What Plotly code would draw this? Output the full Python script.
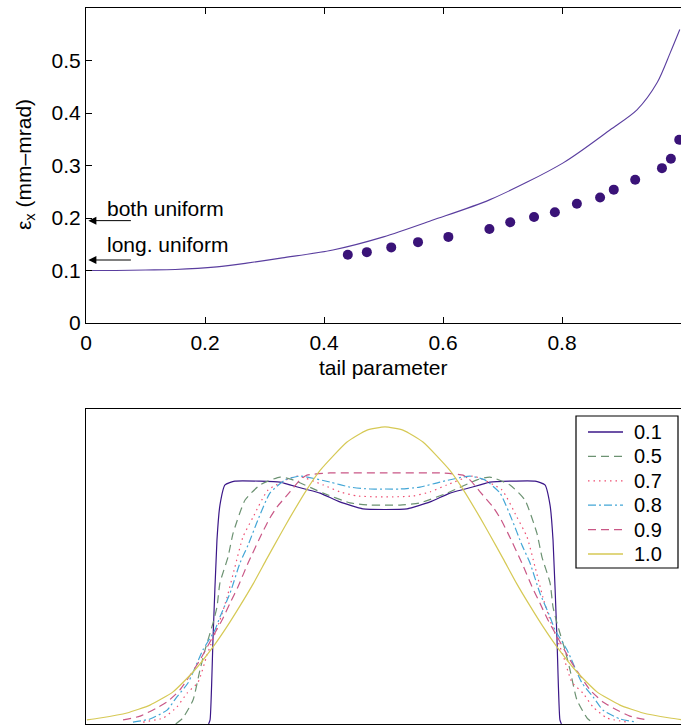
import plotly.graph_objects as go

# ---------------- top panel data ----------------
tail_curve = [0.0, 0.05, 0.10, 0.15, 0.22, 0.27, 0.33, 0.415, 0.50, 0.583, 0.679, 0.802, 0.881, 0.926, 0.960, 0.982, 0.998]
emit_curve = [0.100, 0.100, 0.101, 0.102, 0.107, 0.114, 0.124, 0.139, 0.164, 0.196, 0.235, 0.305, 0.368, 0.406, 0.458, 0.515, 0.559]

tail_pts = [0.440, 0.472, 0.513, 0.558, 0.609, 0.678, 0.713, 0.753, 0.788, 0.825, 0.864, 0.887, 0.923, 0.968, 0.983, 0.997]
emit_pts = [0.130, 0.135, 0.144, 0.154, 0.164, 0.179, 0.192, 0.202, 0.211, 0.227, 0.239, 0.254, 0.273, 0.295, 0.313, 0.349]

x_ticks = [0, 0.2, 0.4, 0.6, 0.8, 1]
x_ticklabels = ["0", "0.2", "0.4", "0.6", "0.8", "1"]
y_ticks = [0, 0.1, 0.2, 0.3, 0.4, 0.5]
y_ticklabels = ["0", "0.1", "0.2", "0.3", "0.4", "0.5"]

ann_labels = ["both uniform", "long. uniform"]
ann_values = [0.195, 0.120]

# ---------------- bottom panel data (half profiles, symmetric about 0) ----------------
labels = ["0.1", "0.5", "0.7", "0.8", "0.9", "1.0"]
u_half = {
    "0.1": [-0.590, -0.585, -0.575, -0.562, -0.552, -0.535, -0.502, -0.418, -0.351, -0.318, -0.268, -0.217, -0.151, -0.074, 0.0],
    "0.5": [-0.700, -0.676, -0.642, -0.619, -0.602, -0.585, -0.575, -0.562, -0.552, -0.525, -0.508, -0.468, -0.418, -0.351, -0.308, -0.207, -0.117, -0.050, 0.0],
    "0.7": [-0.809, -0.742, -0.696, -0.662, -0.625, -0.595, -0.552, -0.528, -0.502, -0.475, -0.441, -0.391, -0.294, -0.207, -0.151, -0.094, -0.027, 0.0],
    "0.8": [-0.843, -0.786, -0.729, -0.696, -0.659, -0.609, -0.569, -0.552, -0.518, -0.485, -0.458, -0.425, -0.385, -0.334, -0.284, -0.184, -0.117, -0.050, 0.0],
    "0.9": [-0.876, -0.819, -0.763, -0.729, -0.686, -0.619, -0.569, -0.545, -0.518, -0.492, -0.458, -0.411, -0.385, -0.361, -0.318, -0.284, -0.261, -0.184, 0.0],
    "1.0": [-0.997, -0.953, -0.863, -0.786, -0.709, -0.642, -0.575, -0.528, -0.485, -0.441, -0.395, -0.351, -0.318, -0.261, -0.217, -0.127, -0.060, 0.0],
}
p_half = {
    "0.1": [0.000, 0.013, 0.276, 0.584, 0.695, 0.759, 0.771, 0.771, 0.768, 0.759, 0.746, 0.733, 0.705, 0.683, 0.681],
    "0.5": [0.000, 0.019, 0.076, 0.171, 0.235, 0.289, 0.321, 0.371, 0.448, 0.530, 0.606, 0.711, 0.759, 0.784, 0.775, 0.733, 0.702, 0.695, 0.695],
    "0.7": [0.006, 0.019, 0.054, 0.098, 0.133, 0.220, 0.330, 0.403, 0.498, 0.594, 0.657, 0.743, 0.787, 0.759, 0.737, 0.724, 0.721, 0.721],
    "0.8": [0.006, 0.016, 0.044, 0.086, 0.130, 0.235, 0.298, 0.340, 0.416, 0.511, 0.568, 0.648, 0.733, 0.775, 0.787, 0.768, 0.752, 0.746, 0.746],
    "0.9": [0.013, 0.025, 0.051, 0.070, 0.108, 0.203, 0.289, 0.330, 0.384, 0.435, 0.511, 0.606, 0.654, 0.689, 0.737, 0.775, 0.790, 0.797, 0.797],
    "1.0": [0.013, 0.019, 0.035, 0.060, 0.102, 0.165, 0.245, 0.310, 0.375, 0.445, 0.525, 0.600, 0.655, 0.745, 0.805, 0.895, 0.933, 0.943],
}
colors = {"0.1": "#3b1788", "0.5": "#6c9272", "0.7": "#ee4f72", "0.8": "#43a6d6", "0.9": "#c95786", "1.0": "#d6c955"}
dashes = {"0.1": "solid", "0.5": "8px,5px", "0.7": "1.5px,4px", "0.8": "8px,3px,2px,3px", "0.9": "8px,5px", "1.0": "solid"}

FONT = "Liberation Sans, Arial, Helvetica, sans-serif"
FS = 21
W, H = 681, 726


def px_x(p):
    return p / W


def px_y(p):
    return (H - p) / H


fig = go.Figure()

# top panel
fig.add_trace(go.Scatter(x=tail_curve, y=emit_curve, mode="lines",
                         line=dict(color="#5a3e9f", width=1.1, shape="spline", smoothing=0.8),
                         showlegend=False, xaxis="x", yaxis="y"))
fig.add_trace(go.Scatter(x=tail_pts, y=emit_pts, mode="markers", marker=dict(color="#3a1378", size=10),
                         showlegend=False, xaxis="x", yaxis="y"))

# bottom panel
for lab in labels:
    uh = u_half[lab]
    ph = p_half[lab]
    uu = uh + [-v for v in reversed(uh[:-1])]
    pp = ph + list(reversed(ph[:-1]))
    fig.add_trace(go.Scatter(x=uu, y=pp, mode="lines", name=lab, showlegend=False,
                             line=dict(color=colors[lab], width=1.2, dash=dashes[lab], shape="spline", smoothing=0.5),
                             xaxis="x2", yaxis="y2"))

top_dom = [px_y(323), px_y(8)]
bot_dom = [px_y(724), px_y(409)]
xdom = [px_x(86), 1.0]

axis_common = dict(showgrid=False, zeroline=False, linecolor="black", linewidth=1.2, automargin=False,
                   tickfont=dict(family=FONT, size=FS, color="black"))

fig.update_layout(
    width=W, height=H, margin=dict(l=0, r=0, t=0, b=0, autoexpand=False),
    paper_bgcolor="white", plot_bgcolor="white",
    font=dict(family=FONT, size=FS, color="black"),
    showlegend=False,
    xaxis=dict(domain=xdom, range=[0, 1], anchor="y", showline=True, mirror="ticks", ticks="inside", ticklen=6,
               tickcolor="black", tickvals=x_ticks, ticktext=x_ticklabels, ticklabelstandoff=1, **axis_common),
    yaxis=dict(domain=top_dom, range=[0, 0.6], anchor="x", showline=True, ticks="inside", ticklen=6,
               tickcolor="black", tickvals=y_ticks, ticktext=y_ticklabels, **axis_common),
    yaxis3=dict(overlaying="y", side="right", anchor="x", range=[0, 0.6], showline=False, ticks="inside", ticklen=6,
                tickcolor="black", tickvals=y_ticks, showticklabels=False, showgrid=False, zeroline=False,
                automargin=False),
    xaxis2=dict(domain=xdom, range=[-1.0, 0.99], anchor="y2", showline=True, mirror=True, ticks="",
                showticklabels=False, **axis_common),
    yaxis2=dict(domain=bot_dom, range=[0, 1.0], anchor="x2", showline=True, ticks="",
                showticklabels=False, **axis_common),
)

# axis titles
fig.add_annotation(xref="paper", yref="paper", x=px_x(383), y=px_y(367), text="tail parameter",
                   showarrow=False, font=dict(family=FONT, size=FS), xanchor="center", yanchor="middle")
fig.add_annotation(xref="paper", yref="paper", x=px_x(25), y=px_y(165), text="ε<sub>x</sub> (mm–mrad)",
                   textangle=-90, showarrow=False, font=dict(family=FONT, size=FS), xanchor="center", yanchor="middle")

# arrows with labels
text_y = [0.2176, 0.149]
for lab, val, ty in zip(ann_labels, ann_values, text_y):
    fig.add_annotation(x=0.004, y=val, xref="x", yref="y", ax=44, ay=0, axref="pixel", ayref="pixel",
                       text="", showarrow=True, arrowhead=2, arrowsize=1.6, arrowwidth=1, arrowcolor="black")
    fig.add_annotation(x=0.032, y=ty, xref="x", yref="y", text=lab, showarrow=False,
                       xanchor="left", yanchor="middle", font=dict(family=FONT, size=FS))

# legend box for the bottom panel (drawn as shapes + text)
fig.add_shape(type="rect", xref="paper", yref="paper", x0=px_x(576), x1=px_x(678), y0=px_y(568), y1=px_y(416),
              line=dict(color="black", width=1.2), fillcolor="white", layer="above")
for i, lab in enumerate(labels):
    yc = 432 + 24.4 * i
    fig.add_shape(type="line", xref="paper", yref="paper", x0=px_x(588), x1=px_x(623), y0=px_y(yc), y1=px_y(yc),
                  line=dict(color=colors[lab], width=1.3, dash=dashes[lab]), layer="above")
    fig.add_annotation(xref="paper", yref="paper", x=px_x(632), y=px_y(yc), text=lab, showarrow=False,
                       xanchor="left", yanchor="middle", font=dict(family=FONT, size=20))

fig.write_html("out.html")
